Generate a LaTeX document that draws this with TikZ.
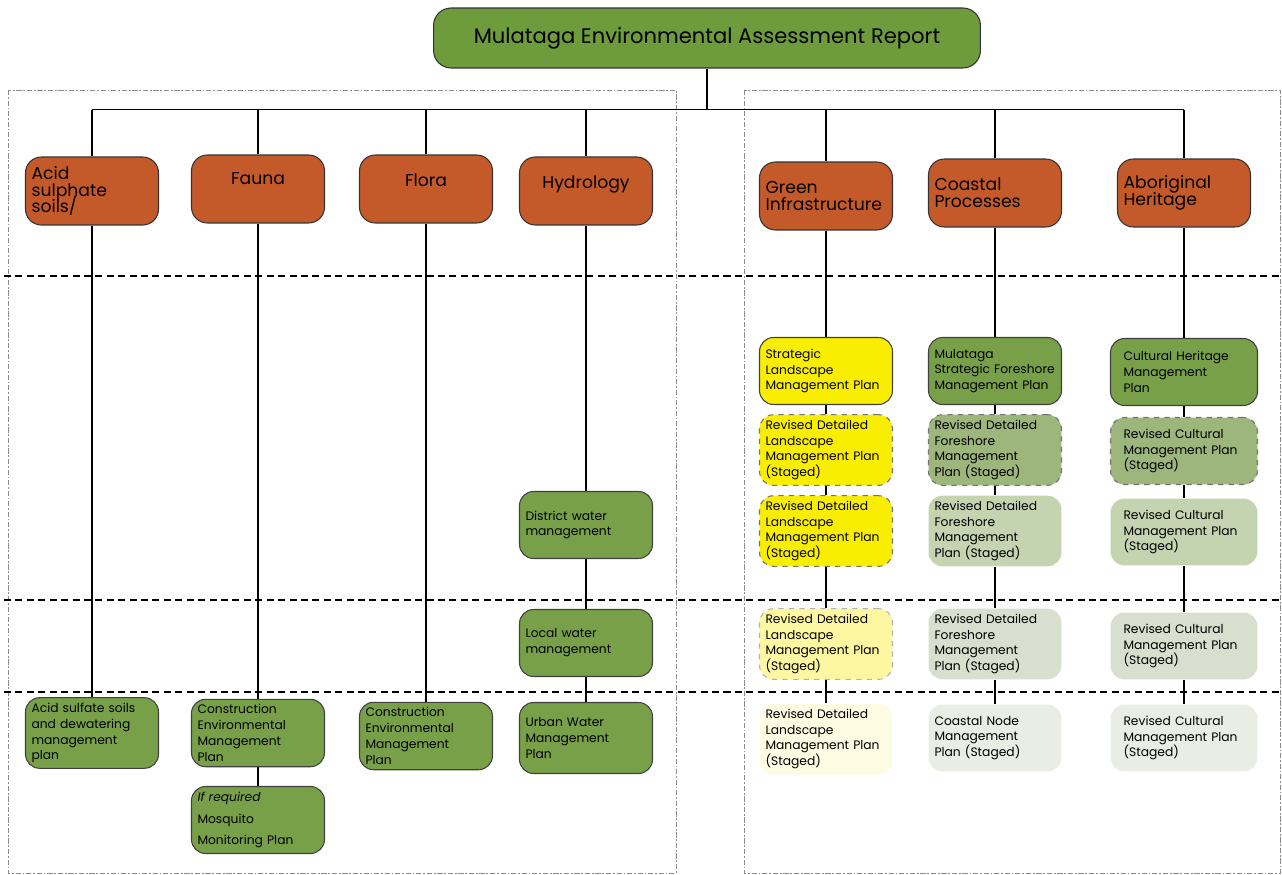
\documentclass[tikz,border=0pt]{standalone}
\usepackage{fontspec}
\setmainfont{Poppins}
\usepackage{xcolor}
\usepackage{tikz}
\usetikzlibrary{positioning}

\definecolor{topicorange}{RGB}{196,90,42}
\definecolor{reportgreen}{RGB}{110,155,60}
\definecolor{plangreen}{RGB}{120,160,72}
\definecolor{midgreen}{RGB}{156,182,124}
\definecolor{lightgreen}{RGB}{196,211,176}
\definecolor{palegreen}{RGB}{216,223,207}
\definecolor{faintgreen}{RGB}{233,237,227}
\definecolor{planyellow}{RGB}{250,238,0}
\definecolor{paleyellow}{RGB}{252,247,160}
\definecolor{faintyellow}{RGB}{253,251,226}

\hyphenpenalty=10000
\exhyphenpenalty=10000
\newcommand{\topicfont}{\fontsize{9.8}{9.6}\selectfont\lineskiplimit=-10pt\relax}

\begin{document}
\begin{tikzpicture}[x=0.02cm, y=-0.02cm,
    report/.style={draw=black!80, line width=0.6pt, rounded corners=10pt, fill=reportgreen,
                   minimum width=10.94cm, minimum height=1.2cm, font=\fontsize{12}{14}\selectfont},
    topic/.style={draw=black!80, line width=0.6pt, rounded corners=9pt, fill=topicorange,
                  minimum width=2.66cm, minimum height=1.36cm, align=left, font=\topicfont},
    topicleft/.style={topic, text width=2.42cm},
    plan/.style={draw=black!75, line width=0.6pt, rounded corners=8pt, fill=#1,
                 minimum width=2.66cm, minimum height=1.34cm, text width=2.42cm, align=left,
                 inner sep=3pt, font=\fontsize{7}{9}\selectfont},
    plan/.default=plangreen,
    stagedplan/.style={plan=#1, draw=black!55, dashed},
    faintplan/.style={plan=#1, draw=none},
    link/.style={draw, line width=0.8pt},
    divider/.style={draw, line width=1pt, dash pattern=on 4pt off 2.5pt},
    panel/.style={draw=black!45, line width=0.4pt, dash pattern=on 3pt off 1pt on 1pt off 1pt}
]
\useasboundingbox (0,0) rectangle (1282,875);

%% Panels and stage dividers
\draw[panel] (8,90) rectangle (676,873);
\draw[panel] (744,90) rectangle (1280,873);
\draw[divider] (4,276) -- (1282,276);
\draw[divider] (4,600) -- (1282,600);
\draw[divider] (4,692) -- (1282,692);

%% Report
\node[report] (report) at (707,38) {Mulataga Environmental Assessment Report};

%% Topics
\node[topicleft] (acid) at (92,191) {Acid\\sulphate\\soils/};
\node[topic, text depth=12pt] (fauna) at (258,189) {Fauna};
\node[topic, text depth=10pt] (flora) at (426,189) {Flora};
\node[topic, text depth=10pt] (hydro) at (586,191) {Hydrology};
\node[topicleft] (green) at (826,196) {Green\\Infrastructure};
\node[topicleft] (coast) at (995,193) {Coastal\\Processes};
\node[topicleft] (abor) at (1184,193) {Aboriginal\\Heritage};

%% Left panel plans
\node[plan] (asmp) at (92,733) {Acid sulfate soils\\and dewatering\\management\\plan};
\node[plan] (cemp) at (258,733) {Construction\\Environmental\\Management\\Plan};
\node[plan, font=\fontsize{7}{12}\selectfont] (mosq) at (258,820) {\textit{If required}\\Mosquito\\Monitoring Plan};
\node[plan] (cempflora) at (426,736) {Construction\\Environmental\\Management\\Plan};
\node[plan] (district) at (586,525) {District water\\management};
\node[plan] (local) at (586,643) {Local water\\management};
\node[plan, minimum height=1.42cm] (urban) at (586,738) {Urban Water\\Management\\Plan};

%% Green infrastructure plans
\node[plan=planyellow] (slmp) at (826,371) {Strategic\\Landscape\\Management Plan};
\node[stagedplan=planyellow] (dlmpa) at (826,450) {Revised Detailed\\Landscape\\Management Plan\\(Staged)};
\node[stagedplan=planyellow] (dlmpb) at (826,531) {Revised Detailed\\Landscape\\Management Plan\\(Staged)};
\node[stagedplan=paleyellow, draw=black!30] (dlmpc) at (826,644) {Revised Detailed\\Landscape\\Management Plan\\(Staged)};
\node[faintplan=faintyellow] (dlmpd) at (826,739) {Revised Detailed\\Landscape\\Management Plan\\(Staged)};

%% Coastal processes plans
\node[plan] (sfmp) at (995,371) {Mulataga\\Strategic Foreshore\\Management Plan};
\node[stagedplan=midgreen] (dfmpa) at (995,450) {Revised Detailed\\Foreshore\\Management\\Plan (Staged)};
\node[faintplan=lightgreen] (dfmpb) at (995,531) {Revised Detailed\\Foreshore\\Management\\Plan (Staged)};
\node[faintplan=palegreen] (dfmpc) at (995,644) {Revised Detailed\\Foreshore\\Management\\Plan (Staged)};
\node[faintplan=faintgreen] (cnmp) at (995,738) {Coastal Node\\Management\\Plan (Staged)};

%% Aboriginal heritage plans
\node[plan, minimum width=2.94cm] (chmp) at (1184,372) {Cultural Heritage\\Management\\Plan};
\node[stagedplan=midgreen, minimum width=2.94cm] (rcmpa) at (1184,451) {Revised Cultural\\Management Plan\\(Staged)};
\node[faintplan=lightgreen, minimum width=2.94cm] (rcmpb) at (1184,532) {Revised Cultural\\Management Plan\\(Staged)};
\node[faintplan=palegreen, minimum width=2.94cm] (rcmpc) at (1184,646) {Revised Cultural\\Management Plan\\(Staged)};
\node[faintplan=faintgreen, minimum width=2.94cm] (rcmpd) at (1184,738) {Revised Cultural\\Management Plan\\(Staged)};

%% Report to topics
\draw[link] (report.south) -- ++(0,41) coordinate (hub);
\draw[link] (acid.north |- hub) -- (abor.north |- hub);
\foreach \t in {acid,fauna,flora,hydro,green,coast,abor}
  \draw[link] (\t.north |- hub) -- (\t.north);

%% Topic chains
\draw[link] (acid) -- (asmp);
\draw[link] (fauna) -- (cemp);
\draw[link] (cemp) -- (mosq);
\draw[link] (flora) -- (cempflora);
\draw[link] (hydro) -- (district);
\draw[link] (district) -- (local);
\draw[link] (local) -- (urban);
\draw[link] (green) -- (slmp);
\draw[link] (slmp) -- (dlmpa);
\draw[link] (dlmpa) -- (dlmpb);
\draw[link] (dlmpb) -- (dlmpc);
\draw[link] (dlmpc) -- (dlmpd);
\draw[link] (coast) -- (sfmp);
\draw[link] (sfmp) -- (dfmpa);
\draw[link] (dfmpa) -- (dfmpb);
\draw[link] (dfmpb) -- (dfmpc);
\draw[link] (dfmpc) -- (cnmp);
\draw[link] (abor) -- (chmp);
\draw[link] (chmp) -- (rcmpa);
\draw[link] (rcmpa) -- (rcmpb);
\draw[link] (rcmpb) -- (rcmpc);
\draw[link] (rcmpc) -- (rcmpd);

\end{tikzpicture}
\end{document}
